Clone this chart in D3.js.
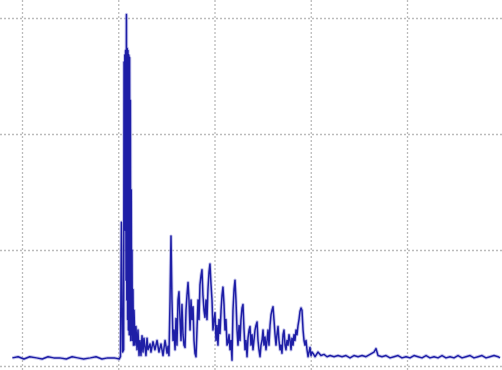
<!DOCTYPE html>
<html>
<head>
<meta charset="utf-8">
<script src="https://cdn.jsdelivr.net/npm/d3@7"></script>
<style>
  html, body { margin: 0; padding: 0; background: #fff; }
  svg { display: block; }
</style>
</head>
<body>
<main></main>
<script>
"use strict";

// sample time (ms) and amplitude
const times = [
  90, 96, 102, 108, 115, 121, 127, 133, 139, 146, 152, 158, 164, 171, 177, 183, 189, 196, 201,
  202.3, 203.3, 204.5, 205.6, 206, 206.4, 206.8, 207.2, 207.6, 208.1, 208.5, 208.9, 209.3,
  209.7, 210.1, 210.5, 211, 211.4, 211.8, 212.2, 212.6, 213, 213.5, 213.9, 214.3, 214.7, 215.3,
  215.8, 216.4, 217.4, 218.4, 219.5,
  220.5, 221.6, 222.6, 223.6, 224.7, 225.7, 226.7, 228.8, 229.9, 230.9, 233, 234, 236.1, 238.1,
  240.3, 242.3, 244.4, 246.5, 248.6, 250.7, 251.7, 252.7, 253.8, 254.8, 255.8, 256.9, 257.9,
  259, 260, 261, 262.1, 263.1, 264.2, 265.2, 266.2, 267.3, 268.3, 269.4, 270.4, 271.4, 272.5,
  273.5, 274.6, 275.6, 276.6, 277.7, 278.7, 279.7, 280.8, 281.8, 282.9, 283.9, 284.9, 286, 287,
  288, 289.1, 290.1, 291.2, 292.2, 293.2, 294.3, 295.3, 296.4, 297.4, 298.4, 299.5, 300.5,
  301.6, 302.6, 303.6, 304.7, 305.7, 306.8, 307.8, 308.8, 309.9, 310.9, 311.9, 313, 314, 315.1,
  316.1, 317.1, 318.2, 319.2, 320.3, 321.3, 322.3, 323.4, 324.4, 325.5, 326.5, 327.5, 328.6,
  329.6, 330.7, 331.7, 332.7, 333.8, 334.8, 335.9, 336.9, 337.9, 339, 340, 341, 342.1, 343.1,
  344.2, 345.2, 346.2, 347.3, 348.3, 349.4, 350.4, 351.4, 352.5, 353.5, 354.6, 355.6, 356.6,
  357.7, 358.7, 359.7, 360.8, 361.8, 362.9, 363.9, 364.9, 366, 367, 368.1, 369.1, 370.1, 371.2,
  372.2, 373.3, 374.3, 375.3, 376.4, 377.4, 378.5, 379.5, 380.5, 381.6, 382.6, 383.6, 384.7,
  385.7, 386.8, 387.8, 388.8, 389.9, 390.9, 392, 393, 394, 395.1, 396.1, 397.2, 398.2, 399.2,
  400.3, 401.3, 402.3, 404.4, 407.5, 410.6, 413.8, 416.9, 420.1, 424.2, 428.3, 432.5, 436.6,
  440.8, 444.9, 449.1, 453.3, 457.4, 461.6, 465.7, 467.8, 469.9, 474, 478.2, 482.4, 486.5,
  490.7, 494.8, 499, 503.1, 507.3, 511.4, 515.6, 519.8, 523.9, 528.1, 532.2, 536.4, 540.5,
  544.7, 548.8, 553, 557.2, 561.3, 565.5, 569.6, 573.8, 577.9, 582.1, 586.3, 590.4, 594.6, 596.6
];

const amplitude = [
  7, 8, 6, 8, 7, 6, 8, 7, 7, 6, 8, 7, 6, 7, 8, 6, 7, 7, 6,
  8, 124, 12, 14, 262, 143, 268, 117, 272, 74, 303, 57, 274,
  40, 272, 31, 268, 27, 266, 27, 229, 22, 152, 27, 100, 22, 66,
  18, 48, 18, 34, 14,
  31, 9, 22, 9, 26, 12, 24, 9, 24, 14, 19, 12, 21, 14,
  22, 12, 19, 9, 22, 11, 17, 9, 57, 112, 57, 22, 31,
  14, 41, 18, 57, 64, 40, 22, 53, 27, 18, 16, 48, 61, 72,
  57, 31, 57, 40, 51, 22, 11, 8, 31, 57, 40, 70, 78, 83,
  61, 48, 42, 57, 40, 66, 81, 88, 70, 57, 31, 40, 46,
  22, 35, 18, 40, 28, 48, 61, 68, 53, 31, 40, 18, 20, 27,
  14, 22, 5, 48, 66, 74, 57, 31, 18, 35, 22, 40, 50,
  53, 31, 14, 22, 8, 24, 31, 34, 18, 27, 14, 22, 31, 35,
  38, 22, 14, 8, 18, 22, 31, 18, 25, 14, 22, 31, 18,
  35, 44, 48, 51, 40, 27, 18, 27, 34, 22, 14, 18, 11, 27,
  31, 18, 14, 22, 18, 27, 22, 14, 24, 18, 27, 22, 31,
  27, 35, 40, 47, 50, 48, 31, 22, 18, 22, 14, 8, 12, 16,
  9, 12, 11, 8, 12, 9, 10, 8, 9, 8, 9, 8, 9,
  7, 9, 8, 9, 8, 10, 12, 15, 9, 8, 9, 7, 8,
  9, 7, 8, 7, 9, 8, 7, 9, 7, 8, 7, 9, 7,
  8, 7, 9, 7, 8, 9, 7, 8, 9, 7, 8, 9, 8, 7
];

const xGridTicks = [100, 200, 300, 400, 500];
const yGridTicks = [0, 100, 200, 300];

const svgWidth = 502;
const svgHeight = 370;

const svg = d3.select("main")
  .append("svg")
  .attr("width", svgWidth)
  .attr("height", svgHeight)
;

svg.append("rect")
  .attr("width", svgWidth)
  .attr("height", svgHeight)
  .attr("fill", "#ffffff")
;

const xScale = d3.scaleLinear()
  .domain([100, 500])
  .range([22, 407])
;

const yScale = d3.scaleLinear()
  .domain([0, 300])
  .range([366, 18])
;

// dotted grid, no labels
const xGrid = d3.axisBottom(xScale)
  .tickValues(xGridTicks)
  .tickSize(-svgHeight)
  .tickFormat("")
;
const yGrid = d3.axisLeft(yScale)
  .tickValues(yGridTicks)
  .tickSize(-svgWidth)
  .tickFormat("")
;

const styleGrid = sel => sel
  .call(g => g.select(".domain").remove())
  .selectAll("line")
  .attr("stroke", "#bcbcbc")
  .attr("stroke-width", 1.3)
  .attr("stroke-dasharray", "2,2")
;

svg.append("g")
  .attr("transform", `translate(0, ${svgHeight})`)
  .call(xGrid)
  .call(styleGrid)
;

svg.append("g")
  .call(yGrid)
  .call(styleGrid)
;

const points = times.map((t, i) => [t, amplitude[i]]);

const line = d3.line()
  .x(d => xScale(d[0]))
  .y(d => yScale(d[1]))
;

// soft halo under the trace, like the smeared original
svg.append("path")
  .datum(points)
  .attr("d", line)
  .attr("fill", "none")
  .attr("stroke", "#8f8fdc")
  .attr("stroke-width", 3.4)
  .attr("stroke-opacity", 0.5)
  .attr("stroke-linejoin", "round")
;

svg.append("path")
  .datum(points)
  .attr("d", line)
  .attr("fill", "none")
  .attr("stroke", "#1e1ea6")
  .attr("stroke-width", 1.5)
  .attr("stroke-linejoin", "round")
;
</script>
</body>
</html>
